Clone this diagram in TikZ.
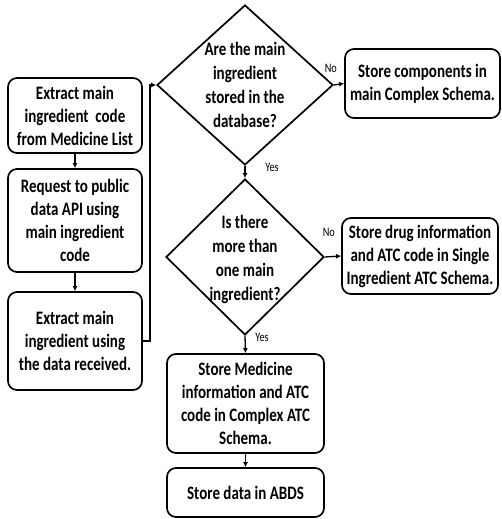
\documentclass[tikz,border=0pt]{standalone}
\usepackage{fontspec}
\setmainfont{Carlito}[FakeStretch=0.79]
\usetikzlibrary{arrows.meta,shapes.geometric}
\begin{document}
\begin{tikzpicture}[x=1pt,y=-1pt,
  procbox/.style={draw,line width=1.7pt,rounded corners=9pt,align=center,
    inner sep=0pt,font=\bfseries\fontsize{19}{23}\selectfont},
  decision/.style={draw,line width=1.7pt,shape=diamond,inner sep=0pt},
  dtext/.style={align=center,inner sep=0pt,font=\bfseries\fontsize{19}{24}\selectfont},
  flow/.style={line width=1.3pt,-{Latex[length=5pt,width=5pt]}},
  lbl/.style={inner sep=0pt,font=\fontsize{13}{15}\selectfont}]
\useasboundingbox (0,0) rectangle (502,519);

% left column
\node[procbox,minimum width=134pt,minimum height=75pt] (b1) at (75,115.5)
  {Extract main\\ingredient\ \ code\\from Medicine List};
\node[procbox,minimum width=134pt,minimum height=103pt] (b2) at (75,220.5)
  {Request to public\\data API using\\main ingredient\\code};
\node[procbox,minimum width=134pt,minimum height=98pt] (b3) at (75,341)
  {Extract main\\ingredient using\\the data received.};

% decisions
\node[decision,minimum width=176pt,minimum height=160pt] (d1) at (245,85) {};
\node[dtext] (t1) at (d1.center) {Are the main\\ingredient\\stored in the\\database?};
\node[decision,minimum width=158pt,minimum height=156pt] (d2) at (245,257) {};
\node[dtext] (t2) at (245,259) {Is there\\more than\\one main\\ingredient?};

% right side and bottom
\node[procbox,minimum width=155pt,minimum height=69pt] (b4) at (422.5,83.5)
  {Store components in\\main Complex Schema.};
\node[procbox,minimum width=156pt,minimum height=76pt] (b5) at (420,256)
  {Store drug information\\and ATC code in Single\\Ingredient ATC Schema.};
\node[procbox,minimum width=157pt,minimum height=99pt] (b6) at (245.5,403.5)
  {Store Medicine\\information and ATC\\code in Complex ATC\\Schema.};
\node[procbox,minimum width=157pt,minimum height=49pt] (b7) at (245.5,492.5)
  {Store data in ABDS};

\coordinate (r1) at (150,341);
\coordinate (r2) at (150,85);

% connectors
\draw[flow] (b1) -- (b2);
\draw[flow] (b2) -- (b3);
\draw[flow] (b3.east) -- (r1) -- (r2) -- (d1.west);
\draw[flow] (d1.east) -- node[lbl,at start,xshift=-3pt,yshift=17pt]{No} (b4.west);
\draw[flow] (d1.south) -- node[lbl,at start,xshift=27pt,yshift=-2pt]{Yes} (d2.north);
\draw[flow] (d2.east) -- node[lbl,at start,xshift=4pt,yshift=25pt]{No} (b5.west);
\draw[flow] (d2.south) -- node[lbl,at start,xshift=17pt,yshift=-2pt]{Yes} (b6.north);
\draw[flow] (b6) -- (b7);
\end{tikzpicture}
\end{document}
